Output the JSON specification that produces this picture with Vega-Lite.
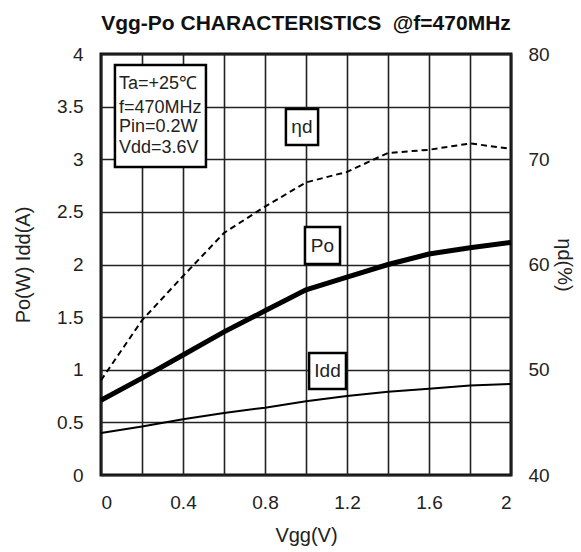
{
  "$schema": "https://vega.github.io/schema/vega-lite/v6.json",
  "width": 410,
  "height": 421,
  "autosize": "none",
  "padding": {"left": 101, "top": 54, "right": 70, "bottom": 77},
  "background": "white",
  "title": {
    "text": "Vgg-Po CHARACTERISTICS\u00a0 @f=470MHz",
    "font": "Liberation Sans",
    "fontSize": 21,
    "fontWeight": "bold",
    "color": "#111",
    "anchor": "middle",
    "frame": "group",
    "baseline": "alphabetic",
    "offset": -6
  },
  "config": {
    "font": "Liberation Sans",
    "view": {"stroke": "#111", "strokeWidth": 3},
    "axis": {
      "domain": false,
      "ticks": false,
      "labelFont": "Liberation Sans",
      "labelFontSize": 19,
      "labelColor": "#222",
      "titleFont": "Liberation Sans",
      "titleFontSize": 20,
      "titleFontWeight": "normal",
      "titleColor": "#222",
      "gridColor": "#222",
      "gridWidth": 1.6,
      "gridOpacity": 1
    }
  },
  "datasets": {
    "curves": [
      {"vgg": 0.0, "po": 0.71, "idd": 0.40, "eta": 49.0},
      {"vgg": 0.2, "po": 0.92, "idd": 0.46, "eta": 54.7},
      {"vgg": 0.4, "po": 1.14, "idd": 0.53, "eta": 58.9},
      {"vgg": 0.6, "po": 1.36, "idd": 0.59, "eta": 63.0},
      {"vgg": 0.8, "po": 1.56, "idd": 0.64, "eta": 65.5},
      {"vgg": 1.0, "po": 1.76, "idd": 0.70, "eta": 67.8},
      {"vgg": 1.2, "po": 1.88, "idd": 0.75, "eta": 68.8},
      {"vgg": 1.4, "po": 2.00, "idd": 0.79, "eta": 70.6},
      {"vgg": 1.6, "po": 2.10, "idd": 0.82, "eta": 70.9},
      {"vgg": 1.8, "po": 2.16, "idd": 0.85, "eta": 71.5},
      {"vgg": 2.0, "po": 2.21, "idd": 0.865, "eta": 71.0}
    ],
    "boxes": [
      {"name": "info", "x1": 0.068, "x2": 0.512, "y1": 3.895, "y2": 2.926},
      {"name": "ηd", "x1": 0.902, "x2": 1.059, "y1": 3.477, "y2": 3.135},
      {"name": "Po", "x1": 0.995, "x2": 1.166, "y1": 2.356, "y2": 2.005},
      {"name": "Idd", "x1": 1.015, "x2": 1.195, "y1": 1.159, "y2": 0.817}
    ],
    "boxlabels": [
      {"label": "ηd", "tx": 0.98, "ty": 3.306},
      {"label": "Po", "tx": 1.08, "ty": 2.18},
      {"label": "Idd", "tx": 1.105, "ty": 0.988}
    ],
    "info": [
      {"line": "Ta=+25℃", "tx": 0.088, "ty": 3.715},
      {"line": "f=470MHz", "tx": 0.088, "ty": 3.487},
      {"line": "Pin=0.2W", "tx": 0.088, "ty": 3.306},
      {"line": "Vdd=3.6V", "tx": 0.088, "ty": 3.107}
    ]
  },
  "layer": [
    {
      "layer": [
        {
          "data": {"name": "curves"},
          "mark": {"type": "line", "color": "#000", "strokeWidth": 2},
          "encoding": {
            "x": {
              "field": "vgg", "type": "quantitative",
              "scale": {"domain": [0, 2], "nice": false},
              "axis": {
                "title": "Vgg(V)",
                "values": [0, 0.2, 0.4, 0.6, 0.8, 1.0, 1.2, 1.4, 1.6, 1.8, 2.0],
                "format": "~g",
                "labelExpr": "round(datum.value*10) % 4 == 0 ? datum.label : ''",
                "labelPadding": 18,
                "titlePadding": 13,
                "grid": true
              }
            },
            "y": {
              "field": "idd", "type": "quantitative",
              "scale": {"domain": [0, 4], "nice": false},
              "axis": {
                "title": "Po(W) Idd(A)",
                "orient": "left",
                "values": [0, 0.5, 1, 1.5, 2, 2.5, 3, 3.5, 4],
                "format": "~g",
                "labelPadding": 18,
                "titlePadding": 23,
                "grid": true
              }
            }
          }
        },
        {
          "data": {"name": "curves"},
          "mark": {"type": "line", "color": "#000", "strokeWidth": 5},
          "encoding": {
            "x": {"field": "vgg", "type": "quantitative"},
            "y": {"field": "po", "type": "quantitative"}
          }
        },
        {
          "data": {"name": "boxes"},
          "mark": {"type": "rect", "fill": "white", "stroke": "#000", "strokeWidth": 2.5},
          "encoding": {
            "x": {"field": "x1", "type": "quantitative"},
            "x2": {"field": "x2"},
            "y": {"field": "y1", "type": "quantitative"},
            "y2": {"field": "y2"}
          }
        },
        {
          "data": {"name": "boxlabels"},
          "mark": {"type": "text", "fontSize": 19, "color": "#222", "align": "center", "baseline": "middle"},
          "encoding": {
            "x": {"field": "tx", "type": "quantitative"},
            "y": {"field": "ty", "type": "quantitative"},
            "text": {"field": "label"}
          }
        },
        {
          "data": {"name": "info"},
          "mark": {"type": "text", "fontSize": 18, "color": "#222", "align": "left", "baseline": "middle"},
          "encoding": {
            "x": {"field": "tx", "type": "quantitative"},
            "y": {"field": "ty", "type": "quantitative"},
            "text": {"field": "line"}
          }
        }
      ]
    },
    {
      "data": {"name": "curves"},
      "mark": {"type": "line", "color": "#000", "strokeWidth": 2, "strokeDash": [6, 4]},
      "encoding": {
        "x": {"field": "vgg", "type": "quantitative"},
        "y": {
          "field": "eta", "type": "quantitative",
          "scale": {"domain": [40, 80], "nice": false},
          "axis": {
            "title": "ηd(%)",
            "orient": "right",
            "values": [40, 50, 60, 70, 80],
            "labelPadding": 17,
            "titlePadding": 4,
            "grid": false
          }
        }
      }
    }
  ],
  "resolve": {"scale": {"y": "independent"}}
}
